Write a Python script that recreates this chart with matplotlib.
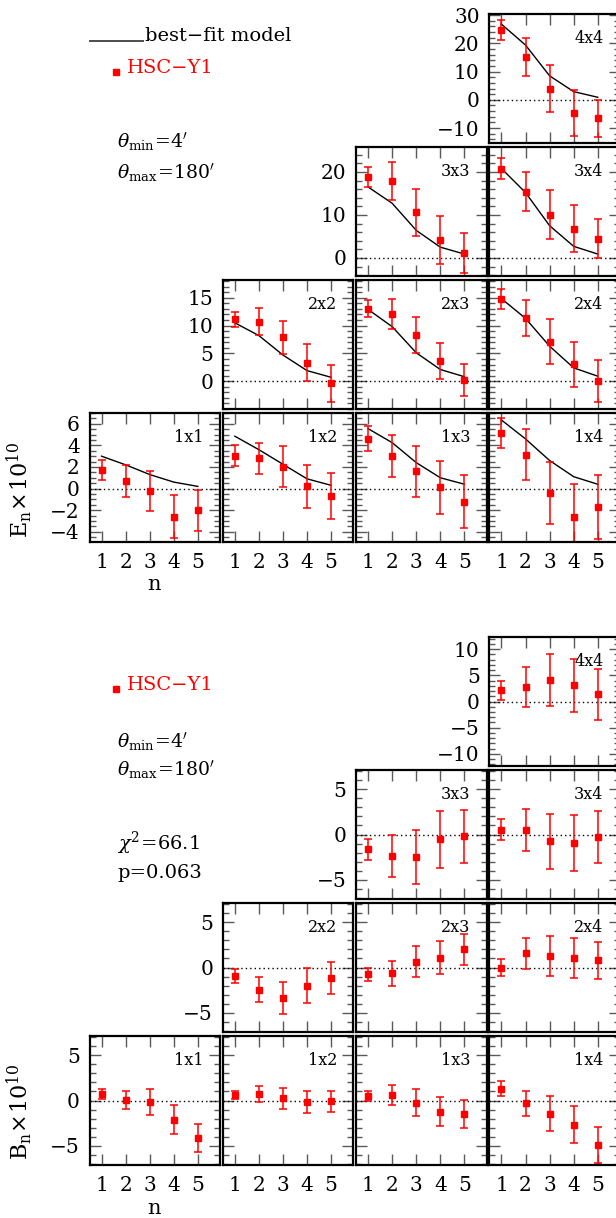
import matplotlib
matplotlib.use("Agg")
import matplotlib.pyplot as plt
from matplotlib.lines import Line2D
from matplotlib.ticker import MultipleLocator

plt.rcParams['font.family'] = ['DejaVu Serif']
plt.rcParams['mathtext.fontset'] = 'dejavuserif'

# data (COSEBIs E_n, B_n x 1e10)
n = [1, 2, 3, 4, 5]
pairs = ['1x1', '1x2', '1x3', '1x4', '2x2', '2x3', '2x4', '3x3', '3x4', '4x4']

E_mean = [
    [1.7, 0.7, -0.2, -2.6, -2.0],
    [3.05, 2.8, 2.0, 0.2, -0.7],
    [4.6, 3.05, 1.6, 0.1, -1.2],
    [5.15, 3.15, -0.4, -2.6, -1.7],
    [11.1, 10.7, 7.9, 3.35, -0.4],
    [13.05, 12.15, 8.3, 3.65, 0.2],
    [14.85, 11.4, 7.1, 3.05, 0.05],
    [18.8, 17.9, 10.6, 4.2, 1.15],
    [20.8, 15.4, 10.0, 6.8, 4.5],
    [24.7, 15.1, 3.9, -4.7, -6.6],
]
E_err = [
    [0.9, 1.5, 1.85, 2.0, 1.9],
    [0.95, 1.45, 1.9, 2.0, 2.1],
    [1.15, 1.95, 2.35, 2.45, 2.45],
    [1.35, 2.35, 2.9, 3.0, 2.95],
    [1.3, 2.4, 3.0, 3.25, 3.4],
    [1.5, 2.7, 3.3, 3.3, 2.9],
    [1.8, 3.2, 4.0, 4.05, 3.8],
    [2.4, 4.35, 5.4, 5.5, 4.7],
    [2.55, 4.5, 5.7, 5.5, 4.6],
    [3.6, 6.8, 8.3, 8.0, 6.7],
]
E_model = [
    [3.0, 2.2, 1.3, 0.6, 0.2],
    [4.85, 3.6, 2.25, 0.9, 0.3],
    [5.55, 4.25, 2.4, 1.0, 0.4],
    [6.35, 4.6, 2.6, 1.1, 0.4],
    [10.5, 8.2, 4.7, 1.9, 0.7],
    [12.9, 9.8, 5.1, 2.1, 0.8],
    [14.85, 11.3, 6.3, 2.4, 0.9],
    [16.5, 12.7, 6.4, 2.5, 0.9],
    [20.8, 15.2, 7.5, 2.7, 0.9],
    [26.8, 19.4, 8.5, 2.9, 0.9],
]
B_mean = [
    [0.7, 0.1, -0.2, -2.1, -4.1],
    [0.6, 0.7, 0.25, -0.2, -0.1],
    [0.55, 0.6, -0.25, -1.25, -1.5],
    [1.3, -0.3, -1.45, -2.65, -4.9],
    [-0.95, -2.45, -3.35, -2.0, -1.15],
    [-0.75, -0.65, 0.65, 1.1, 2.0],
    [0.0, 1.55, 1.25, 1.05, 0.8],
    [-1.65, -2.4, -2.45, -0.55, -0.2],
    [0.55, 0.5, -0.75, -0.95, -0.3],
    [2.1, 2.8, 4.1, 3.1, 1.4],
]
B_err = [
    [0.55, 1.0, 1.45, 1.55, 1.55],
    [0.45, 0.9, 1.15, 1.2, 1.2],
    [0.55, 1.1, 1.5, 1.6, 1.55],
    [0.8, 1.4, 1.9, 2.0, 2.0],
    [0.75, 1.4, 1.75, 1.9, 1.8],
    [0.7, 1.4, 1.75, 1.8, 1.7],
    [0.9, 1.75, 2.2, 2.2, 2.05],
    [1.15, 2.3, 2.95, 3.1, 2.9],
    [1.2, 2.35, 3.05, 3.1, 2.85],
    [1.9, 3.8, 5.0, 5.1, 4.85],
]

W, H = 616, 1218
fig = plt.figure(figsize=(W / 100, H / 100), dpi=100)

PW, PH = 130.5, 129
col_left = [89.5, 222.8, 356.1, 489.4]

# per-row y settings: (ylim, major ticks, minor step)
E_rows = {4: ((-15.3, 30.4), [-10, 0, 10, 20, 30], 2),
          3: ((-4.2, 25.8), [0, 10, 20], 2),
          2: ((-5.0, 18.2), [0, 5, 10, 15], 1),
          1: ((-4.95, 7.0), [-4, -2, 0, 2, 4, 6], 0.5)}
B_rows = {4: ((-12.3, 12.3), [-10, -5, 0, 5, 10], 1),
          3: ((-7.1, 7.1), [-5, 0, 5], 1),
          2: ((-7.1, 7.1), [-5, 0, 5], 1),
          1: ((-7.1, 7.1), [-5, 0, 5], 1)}


def fx(px):
    return px / W


def fy(py):
    return 1 - py / H


def draw_grid(top0, rows, mean, err, model=None):
    for k, p in enumerate(pairs):
        i, j = int(p[0]), int(p[2])
        top = top0 + (4 - i) * 133
        ax = fig.add_axes([fx(col_left[j - 1]), fy(top + PH), PW / W, PH / H])
        ylim, major, minor = rows[i]
        ax.axhline(0, color='k', lw=1, ls=(0, (1, 2.2)))
        if model is not None:
            ax.plot(n, model[k], color='k', lw=1)
        ax.errorbar(n, mean[k], yerr=err[k], fmt='s', color='red', ms=5,
                    ecolor='red', elinewidth=1.1, capsize=3, capthick=1.1)
        ax.set_xlim(0.5, 5.92)
        ax.set_ylim(*ylim)
        ax.set_xticks(n)
        ax.set_yticks(major)
        ax.yaxis.set_minor_locator(MultipleLocator(minor))
        ax.tick_params(which='both', direction='in', top=True, right=True,
                       color='0.35', width=1)
        ax.tick_params(which='major', length=8, labelsize=14.5)
        ax.tick_params(which='minor', length=4)
        ax.tick_params(axis='x', pad=8)
        ax.tick_params(axis='y', pad=7)
        for s in ax.spines.values():
            s.set_linewidth(1.6)
        if i != 1:
            ax.set_xticklabels([])
        if j != i:
            ax.set_yticklabels([])
        ax.text(0.875, 0.81, p, transform=ax.transAxes, ha='right',
                va='center', fontsize=11.5)


draw_grid(14, E_rows, E_mean, E_err, E_model)
draw_grid(637, B_rows, B_mean, B_err)

# axis labels
fig.text(fx(20), fy(490), r'$\mathrm{E_n\!\times\!10^{10}}$', rotation=90,
         ha='center', va='center', fontsize=16)
fig.text(fx(20), fy(1112), r'$\mathrm{B_n\!\times\!10^{10}}$', rotation=90,
         ha='center', va='center', fontsize=16)
fig.text(fx(154), fy(585), 'n', ha='center', va='center', fontsize=15)
fig.text(fx(154), fy(1208), 'n', ha='center', va='center', fontsize=15)

# legend-like annotations, E part
fig.add_artist(Line2D([fx(90), fx(143)], [fy(41), fy(41)], color='0.3', lw=1.4))
fig.text(fx(145), fy(41), 'best\u2212fit model', va='baseline', fontsize=14)
fig.add_artist(Line2D([fx(116)], [fy(72)], marker='s', color='red', ms=4, ls='none'))
fig.text(fx(127), fy(68), 'HSC\u2212Y1', color='red', va='center', fontsize=14)
fig.text(fx(117), fy(142), r'$\theta_{\rm min}\!=\!4^{\prime}$', va='center', fontsize=13.5)
fig.text(fx(117), fy(173), r'$\theta_{\rm max}\!=\!180^{\prime}$', va='center', fontsize=13.5)

# B part
fig.add_artist(Line2D([fx(116)], [fy(689)], marker='s', color='red', ms=4, ls='none'))
fig.text(fx(127), fy(685), 'HSC\u2212Y1', color='red', va='center', fontsize=14)
fig.text(fx(117), fy(742), r'$\theta_{\rm min}\!=\!4^{\prime}$', va='center', fontsize=13.5)
fig.text(fx(117), fy(770), r'$\theta_{\rm max}\!=\!180^{\prime}$', va='center', fontsize=13.5)
fig.text(fx(117), fy(843), r'$\chi^2\!=\!66.1$', va='center', fontsize=14)
fig.text(fx(117), fy(873), 'p=0.063', va='center', fontsize=14)

fig.savefig('out.png', dpi=100)
